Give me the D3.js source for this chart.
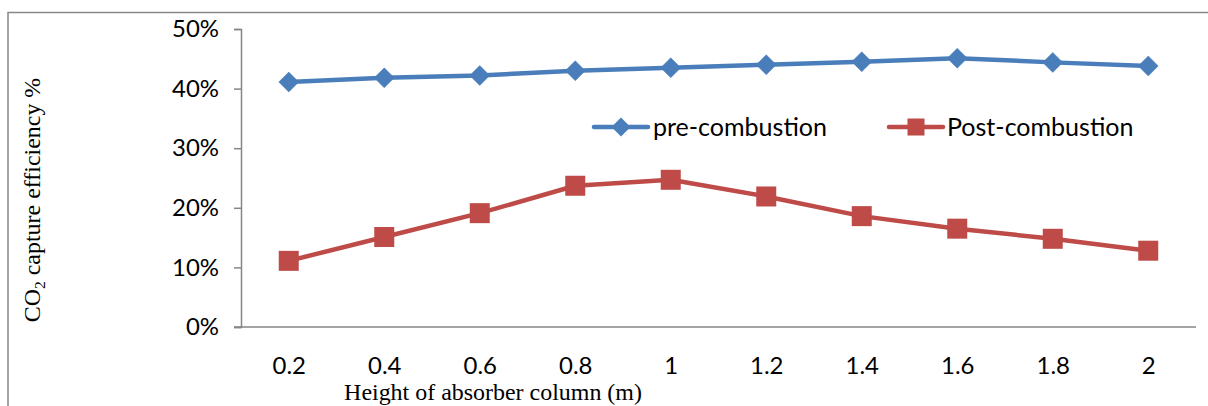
<!DOCTYPE html>
<html>
<head>
<meta charset="utf-8">
<script src="https://cdn.jsdelivr.net/npm/d3@7"></script>
<style>
html,body{margin:0;padding:0;background:#fff;}
svg{display:block;}
</style>
</head>
<body>
<svg id="chart" width="1208" height="406"></svg>
<script>
const heights = ["0.2","0.4","0.6","0.8","1","1.2","1.4","1.6","1.8","2"];
const preCombustion = [41.1, 41.8, 42.2, 43.0, 43.5, 44.0, 44.5, 45.1, 44.4, 43.8];
const postCombustion = [11.1, 15.1, 19.1, 23.7, 24.7, 21.9, 18.6, 16.5, 14.8, 12.8];
const yTicks = [0, 10, 20, 30, 40, 50];
const seriesNames = ["pre-combustion", "Post-combustion"];
const xTitle = "Height of absorber column (m)";

const SANS = "Lato, 'Open Sans', sans-serif";
const SERIF = "'Liberation Serif', 'Times New Roman', serif";
const BLUE = "#4A7EBB", RED = "#BE4B48", AXIS = "#868686";

const svg = d3.select("#chart");

function fitSize(str, family, target) {
  const t = svg.append("text").attr("font-family", family).attr("font-size", 100).text(str);
  const w = t.node().getComputedTextLength();
  t.remove();
  return 100 * target / w;
}
const legendSize = fitSize("pre-combustion", SANS, 174);
const tickSize = fitSize("50%", SANS, 47);
const serifSize = fitSize(xTitle, SERIF, 298);

// outer border
svg.append("rect").attr("x", 8).attr("y", 12.5).attr("width", 1300).attr("height", 600)
  .attr("fill", "none").attr("stroke", "#878787").attr("stroke-width", 1.5);

const x = d3.scalePoint().domain(heights).range([241, 1196]).padding(0.5);
const y = d3.scaleLinear().domain([0, 50]).range([327, 29]);

// y axis
const yAxis = d3.axisLeft(y).tickValues(yTicks).tickSize(7).tickPadding(15)
  .tickFormat(d => d + "%");
const gy = svg.append("g").attr("transform", "translate(241,0)").call(yAxis);
gy.select(".domain").attr("stroke", AXIS).attr("stroke-width", 1.5);
gy.selectAll(".tick line").attr("stroke", AXIS).attr("stroke-width", 1.5);
gy.selectAll(".tick text").attr("font-family", SANS).attr("font-size", tickSize).attr("fill", "#000");

// x axis
const xAxis = d3.axisBottom(x).tickSize(0).tickPadding(30);
const gx = svg.append("g").attr("transform", "translate(0,327)").call(xAxis);
gx.select(".domain").attr("stroke", AXIS).attr("stroke-width", 1.5).attr("d", "M234,0H1196");
gx.selectAll(".tick text").attr("font-family", SANS).attr("font-size", tickSize).attr("fill", "#000");

// axis titles
svg.append("text").attr("x", 493).attr("y", 400).attr("text-anchor", "middle")
  .attr("font-family", SERIF).attr("font-size", serifSize).attr("fill", "#000").text(xTitle);

const yt = svg.append("text").attr("transform", "translate(39.5,200) rotate(-90)")
  .attr("text-anchor", "middle").attr("font-family", SERIF).attr("font-size", serifSize).attr("fill", "#000");
yt.append("tspan").text("CO");
yt.append("tspan").attr("font-size", serifSize * 0.65).attr("dy", 5).text("2");
yt.append("tspan").attr("dy", -5).text(" capture efficiency %");

// lines
const line = d3.line().x((d, i) => x(heights[i])).y(d => y(d));
svg.append("path").datum(preCombustion).attr("d", line).attr("fill", "none")
  .attr("stroke", BLUE).attr("stroke-width", 4.5).attr("stroke-linejoin", "round");
svg.append("path").datum(postCombustion).attr("d", line).attr("fill", "none")
  .attr("stroke", RED).attr("stroke-width", 4.5).attr("stroke-linejoin", "round");

const diamond = (cx, cy, r) => `M${cx},${cy - r}L${cx + r},${cy}L${cx},${cy + r}L${cx - r},${cy}Z`;

svg.append("g").selectAll("path").data(preCombustion).join("path")
  .attr("d", (d, i) => diamond(x(heights[i]), y(d), 10))
  .attr("fill", BLUE).attr("stroke", BLUE).attr("stroke-width", 0.5);
svg.append("g").selectAll("rect").data(postCombustion).join("rect")
  .attr("x", (d, i) => x(heights[i]) - 10).attr("y", d => y(d) - 10)
  .attr("width", 20).attr("height", 20).attr("fill", RED);

// legend
const lg = svg.append("g");
lg.append("line").attr("x1", 594).attr("x2", 648).attr("y1", 127).attr("y2", 127)
  .attr("stroke", BLUE).attr("stroke-width", 4.5).attr("stroke-linecap", "round");
lg.append("path").attr("d", diamond(621, 127, 9.5)).attr("fill", BLUE);
lg.append("text").attr("x", 653).attr("y", 127).attr("dy", "0.35em")
  .attr("font-family", SANS).attr("font-size", legendSize).attr("fill", "#000").text(seriesNames[0]);

lg.append("line").attr("x1", 889).attr("x2", 943).attr("y1", 127).attr("y2", 127)
  .attr("stroke", RED).attr("stroke-width", 4.5).attr("stroke-linecap", "round");
lg.append("rect").attr("x", 907.5).attr("y", 118.5).attr("width", 17).attr("height", 17).attr("fill", RED);
lg.append("text").attr("x", 947).attr("y", 127).attr("dy", "0.35em")
  .attr("font-family", SANS).attr("font-size", legendSize).attr("fill", "#000").text(seriesNames[1]);
</script>
</body>
</html>
